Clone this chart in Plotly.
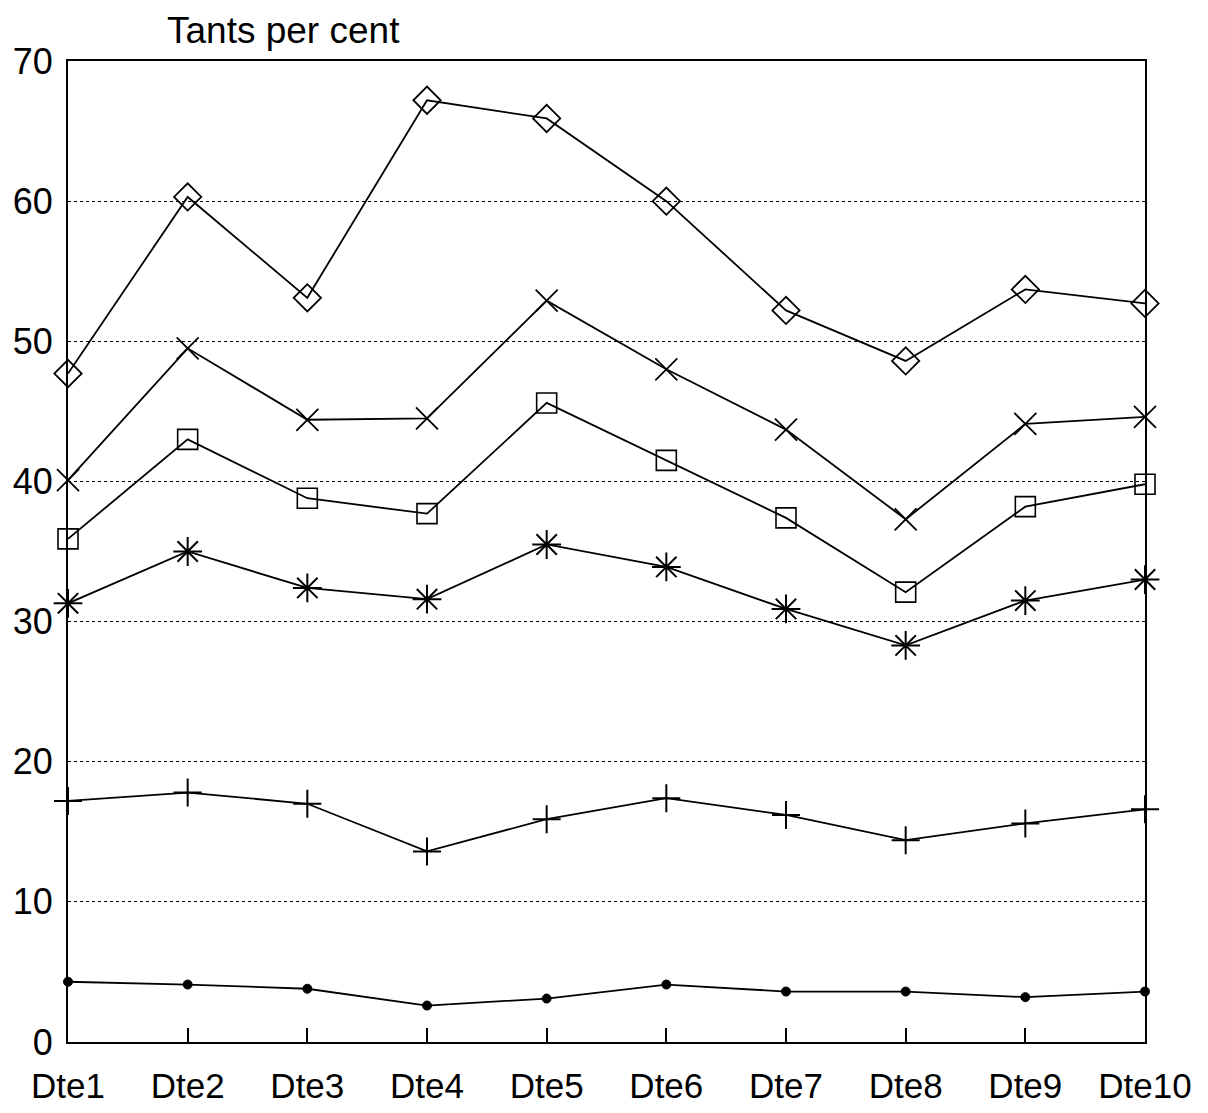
import plotly.graph_objects as go

categories = ["Dte1", "Dte2", "Dte3", "Dte4", "Dte5", "Dte6", "Dte7", "Dte8", "Dte9", "Dte10"]

series_diamond = [47.7, 60.3, 53.1, 67.2, 65.9, 60.0, 52.2, 48.6, 53.7, 52.7]
series_x = [40.1, 49.5, 44.4, 44.5, 52.9, 48.0, 43.7, 37.3, 44.1, 44.6]
series_square = [35.9, 43.0, 38.8, 37.7, 45.6, 41.5, 37.4, 32.1, 38.2, 39.8]
series_asterisk = [31.3, 35.0, 32.4, 31.6, 35.5, 33.9, 30.9, 28.3, 31.5, 33.0]
series_cross = [17.2, 17.8, 17.0, 13.6, 15.9, 17.4, 16.2, 14.4, 15.6, 16.6]
series_dot = [4.3, 4.1, 3.8, 2.6, 3.1, 4.1, 3.6, 3.6, 3.2, 3.6]

y_ticks = [0, 10, 20, 30, 40, 50, 60, 70]

FONT = "Liberation Sans, Arial, sans-serif"

fig = go.Figure()

specs = [
    (series_diamond, "diamond-open", 21, 1.8),
    (series_x, "x-thin", 22, 1.8),
    (series_square, "square-open", 20, 1.6),
    (series_asterisk, "asterisk", 24, 2.0),
    (series_cross, "cross-thin", 20, 2.0),
    (series_dot, "circle", 9, 1.0),
]

for vals, sym, size, mlw in specs:
    fig.add_trace(go.Scatter(
        x=list(range(len(categories))),
        y=vals,
        mode="lines+markers",
        line=dict(color="black", width=1.8),
        marker=dict(symbol=sym, size=size, color="black",
                    line=dict(color="black", width=mlw)),
        showlegend=False,
        cliponaxis=False,
    ))

fig.update_layout(
    width=1192, height=1097,
    paper_bgcolor="white", plot_bgcolor="white",
    margin=dict(l=60, r=55, t=53, b=63, autoexpand=False),
    font=dict(family=FONT, color="black", size=35),
    annotations=[dict(
        text="Tants per cent", xref="paper", yref="paper",
        x=(157 - 60) / 1077, y=1, xanchor="left", yanchor="bottom",
        yshift=8, showarrow=False, font=dict(family=FONT, size=37, color="black"),
    )],
)

fig.update_xaxes(
    range=[0, len(categories) - 1],
    tickmode="array",
    tickvals=list(range(len(categories))),
    ticktext=categories,
    ticks="inside", ticklen=14, tickwidth=1.5, tickcolor="black",
    showgrid=False, zeroline=False,
    showline=True, linecolor="black", linewidth=1.8, mirror=True,
    ticklabelstandoff=12, automargin=False,
    tickfont=dict(size=35, family=FONT, color="black"),
)

fig.update_yaxes(
    range=[0, 70],
    tickmode="array",
    tickvals=y_ticks,
    ticktext=[str(v) for v in y_ticks],
    ticks="",
    showgrid=True, gridcolor="black", gridwidth=1, griddash="dot",
    zeroline=False,
    showline=True, linecolor="black", linewidth=1.8, mirror=True,
    ticklabelstandoff=6, automargin=False,
    tickfont=dict(size=36, family=FONT, color="black"),
)

fig.write_html("out.html")
